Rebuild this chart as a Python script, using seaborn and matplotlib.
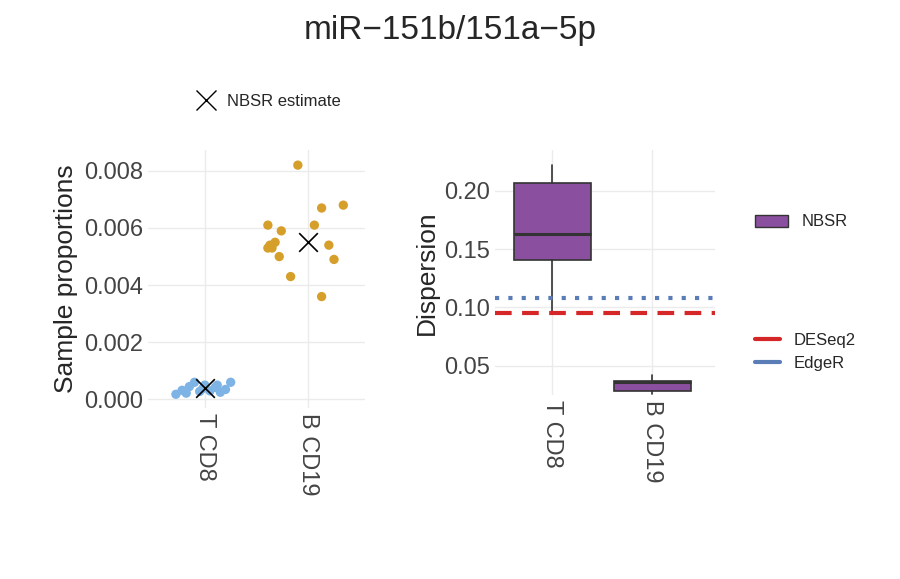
import matplotlib.pyplot as plt
import seaborn as sns
import pandas as pd
from matplotlib.lines import Line2D
from matplotlib.patches import Patch

groups = ["T CD8", "B CD19"]
tcd8_x = [-0.28, -0.22, -0.15, -0.1, -0.05, 0.0, 0.05, 0.1, 0.15, 0.2, 0.25, -0.18, 0.12, -0.02]
tcd8_y = [0.00018, 0.00032, 0.00045, 0.0006, 0.00028, 0.0005, 0.0003, 0.00042, 0.00025, 0.00035, 0.0006, 0.00022, 0.0005, 0.00038]
bcd19_x = [-0.1, 0.34, 0.13, -0.39, 0.06, -0.26, 0.2, 0.25, -0.28, -0.37, -0.32, -0.17, 0.13, -0.39, -0.35]
bcd19_y = [0.0082, 0.0068, 0.0067, 0.0061, 0.0061, 0.0059, 0.0054, 0.0049, 0.0050, 0.0054, 0.0055, 0.0043, 0.0036, 0.0053, 0.0053]
nbsr_est = [0.0004, 0.0055]
box_stats = [
    dict(label="T CD8", whislo=0.095, q1=0.141, med=0.163, q3=0.207, whishi=0.222, fliers=[]),
    dict(label="B CD19", whislo=0.026, q1=0.028, med=0.036, q3=0.037, whishi=0.042, fliers=[]),
]
deseq2 = 0.095
edger = 0.108

sns.set_theme(style="whitegrid")
plt.rcParams["font.family"] = ["Liberation Sans", "DejaVu Sans"]
fig = plt.figure(figsize=(9, 5.79), dpi=100)
ax1 = fig.add_axes([148/900, 1-408/579, 217/900, 258/579])
ax2 = fig.add_axes([495/900, 1-395/579, 220/900, 245/579])

pts = pd.DataFrame({
    "x": [0 + d for d in tcd8_x] + [1 + d for d in bcd19_x],
    "y": tcd8_y + bcd19_y,
    "g": ["T CD8"] * len(tcd8_y) + ["B CD19"] * len(bcd19_y),
})
sns.scatterplot(data=pts, x="x", y="y", hue="g", palette=["#7EB3E5", "#D59F2A"],
                s=45, edgecolor="none", legend=False, ax=ax1)
ax1.scatter([0, 1], nbsr_est, marker="x", s=180, color="black", linewidths=1.2, zorder=5)
ax1.set_xlim(-0.55, 1.55)
ax1.set_ylim(-0.0003, 0.00873)
ax1.set_xticks([0, 1])
ax1.set_xticklabels(groups, rotation=-90, fontsize=17, color="#444444")
ax1.set_yticks([0, 0.002, 0.004, 0.006, 0.008])
ax1.set_yticklabels(["0.000", "0.002", "0.004", "0.006", "0.008"], fontsize=17, color="#444444")
ax1.set_xlabel("")
ax1.set_ylabel("Sample proportions", fontsize=19)

ax2.bxp(box_stats, positions=[0, 1], widths=0.77, patch_artist=True, showfliers=False,
        boxprops=dict(facecolor="#8B4FA0", edgecolor="#333333", linewidth=1.2),
        medianprops=dict(color="#333333", linewidth=2.2),
        whiskerprops=dict(color="#333333", linewidth=1.2), showcaps=False)
ax2.axhline(deseq2, color="#D62728", linestyle=(0, (4, 2.5)), linewidth=3)
ax2.axhline(edger, color="#5A7DB8", linestyle=(0, (1, 2.2)), linewidth=3)
ax2.set_xlim(-0.57, 1.63)
ax2.set_ylim(0.025, 0.235)
ax2.set_xticks([0, 1])
ax2.set_xticklabels(groups, rotation=-90, fontsize=17, color="#444444")
ax2.set_yticks([0.05, 0.10, 0.15, 0.20])
ax2.set_yticklabels(["0.05", "0.10", "0.15", "0.20"], fontsize=17, color="#444444")
ax2.set_ylabel("Dispersion", fontsize=19)
for ax in (ax1, ax2):
    ax.grid(True, color="#EBEBEB")
    for s in ax.spines.values():
        s.set_visible(False)
    ax.tick_params(length=0)

fig.text(0.5, 1-30/579, "miR\u2212151b/151a\u22125p", ha="center", va="center", fontsize=24)
fig.legend(handles=[Line2D([], [], marker="x", color="black", linestyle="none", markersize=14)],
           labels=["NBSR estimate"], loc="center", bbox_to_anchor=(265/900, 1-101/579),
           frameon=False, fontsize=12, handletextpad=0.3)
fig.legend(handles=[Patch(facecolor="#8B4FA0", edgecolor="#333333")], labels=["NBSR"],
           loc="center left", bbox_to_anchor=(740/900, 1-222/579), frameon=False, fontsize=12)
fig.legend(handles=[Line2D([], [], color="#D62728", linewidth=3),
                    Line2D([], [], color="#5A7DB8", linewidth=3)],
           labels=["DESeq2", "EdgeR"], loc="center left", bbox_to_anchor=(740/900, 1-352/579),
           frameon=False, fontsize=12, handlelength=1.5)
fig.savefig("out.png", dpi=100)
